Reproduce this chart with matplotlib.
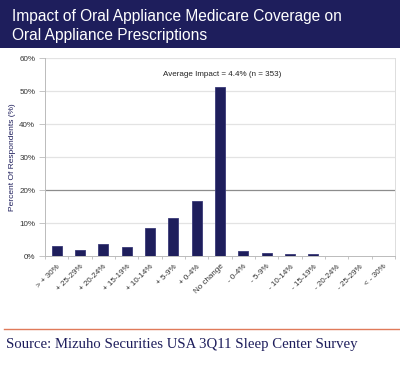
import matplotlib
matplotlib.use("Agg")
import matplotlib.pyplot as plt
from matplotlib.patches import Rectangle
from matplotlib.lines import Line2D
from matplotlib.ticker import PercentFormatter
import numpy as np

plt.rcParams["font.family"] = ["Liberation Sans", "DejaVu Sans"]

categories = ["> + 30%", "+ 25-29%", "+ 20-24%", "+ 15-19%", "+ 10-14%",
              "+ 5-9%", "+ 0-4%", "No change", "- 0-4%", "- 5-9%",
              "- 10-14%", "- 15-19%", "- 20-24%", "- 25-29%", "< - 30%"]
percent = [3.0, 1.7, 3.6, 2.7, 8.4, 11.6, 16.8, 51.3, 1.6, 1.0, 0.6, 0.6, 0, 0, 0]
yticks = [0, 10, 20, 30, 40, 50, 60]

title = "Impact of Oral Appliance Medicare Coverage on\nOral Appliance Prescriptions"
note = "Average Impact = 4.4% (n = 353)"
source = "Source: Mizuho Securities USA 3Q11 Sleep Center Survey"

NAVY = "#1e1e5c"

fig = plt.figure(figsize=(4.0, 3.7), dpi=100)
fig.patch.set_facecolor("white")

# header band
fig.patches.append(Rectangle((0.0, 0.870), 1.0, 0.130, transform=fig.transFigure,
                             facecolor=NAVY, edgecolor="none", zorder=0))
fig.text(0.03, 0.976, title, color="white", fontsize=11.2, va="top", ha="left",
         linespacing=1.35)

ax = fig.add_axes([0.1125, 0.308, 0.875, 0.535])
x = np.arange(len(categories))
ax.bar(x, percent, width=0.43, color=NAVY, edgecolor="#3a3a78", linewidth=0.6, zorder=3)

ax.set_xlim(-0.5, len(categories) - 0.5)
ax.set_ylim(0, 60)
ax.set_yticks(yticks)
ax.yaxis.set_major_formatter(PercentFormatter(decimals=0))
for y in yticks[1:]:
    ax.axhline(y, color="#8c8c8c" if y == 20 else "#e3e3e3", lw=0.9, zorder=1)

ax.set_xticks(x)
ax.set_xticklabels(categories, rotation=45, ha="right", rotation_mode="anchor",
                   fontsize=5.8, color="#333333")
ax.set_xticks(np.arange(-0.5, len(categories)), minor=True)
ax.tick_params(axis="x", which="major", length=0, pad=5)
ax.tick_params(axis="x", which="minor", length=2.5, color="#bbbbbb", width=0.6)
ax.tick_params(axis="y", length=4, color="#bbbbbb", width=0.6, labelsize=5.8,
               labelcolor="#333333", pad=3)

ax.spines["top"].set_visible(False)
ax.spines["right"].set_color("#dddddd")
ax.spines["left"].set_color("#bbbbbb")
ax.spines["bottom"].set_color("#bbbbbb")
for s in ax.spines.values():
    s.set_linewidth(0.7)

ax.set_ylabel("Percent Of Respondents (%)", fontsize=6, color=NAVY, labelpad=2)
ax.text(0.505, 0.915, note, transform=ax.transAxes, ha="center", va="center",
        fontsize=5.8, color="#222222")

fig.add_artist(Line2D([0.01, 1.0], [0.111, 0.111], transform=fig.transFigure,
                      color="#e07a5a", lw=1.0))
fig.text(0.015, 0.07, source, fontsize=10.6, va="center", ha="left",
         family="Liberation Serif", color="#1e1e5c")

fig.savefig("out.png", dpi=100)
